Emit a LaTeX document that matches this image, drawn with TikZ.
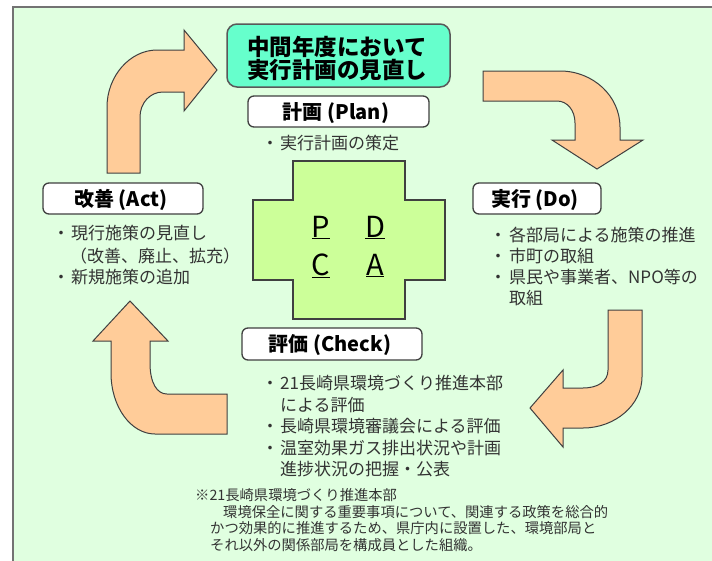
\documentclass[tikz,border=0pt]{standalone}
\usepackage{fontspec}
\setmainfont{Noto Sans CJK JP}
\definecolor{bgc}{HTML}{E0FFE0}
\definecolor{orng}{HTML}{FFCC99}
\definecolor{aqua}{HTML}{66FFCC}
\definecolor{crossc}{HTML}{CCFF99}
\definecolor{txt}{HTML}{333333}
\definecolor{edge}{HTML}{404040}
\newcommand\bl{\makebox[10pt][l]{\hspace{-8.5pt}・}}
\begin{document}
\begin{tikzpicture}[x=1pt,y=-1pt,
  arrowshape/.style={fill=orng, draw=edge, line width=1pt, line join=miter},
  labelbox/.style={fill=white, draw=edge, line width=1.3pt, rounded corners=6pt},
  labeltext/.style={anchor=base, inner sep=0, font=\fontsize{20}{24}\selectfont\bfseries},
  body/.style={anchor=base west, inner sep=0, font=\fontsize{17}{20}\selectfont, text=txt},
  note/.style={anchor=base west, inner sep=0, font=\fontsize{14.3}{17}\selectfont, text=txt},
  pdca/.style={anchor=base, inner sep=0, font=\fontsize{29}{32}\selectfont, text=black}]
\useasboundingbox (0,0) rectangle (712,560);
\clip (0,0) rectangle (712,560);
\fill[white] (0,0) rectangle (712,560);
\draw[fill=bgc, draw=gray!90!black, line width=2pt] (13,7) rectangle (740,590);

% cross
\draw[fill=crossc, draw=edge, line width=1.2pt]
 (293,161) -- (405,161) -- (405,200) -- (445,200) -- (445,280) -- (405,280) -- (405,319)
 -- (293,319) -- (293,280) -- (253,280) -- (253,200) -- (293,200) -- cycle;
\node[pdca] (p) at (321,237) {\underline{P}};
\node[pdca] (d) at (375,237) {\underline{D}};
\node[pdca] (c) at (321,275) {\underline{C}};
\node[pdca] (a) at (375,275) {\underline{A}};

% arrows
\draw[arrowshape] (107,173) -- (107,107) .. controls (107,76) and (130,50) .. (157,50)
 -- (184,50) -- (184,30) -- (217,70) -- (184,111) -- (184,92) -- (163,92)
 .. controls (150,92) and (140,103) .. (140,117) -- (140,173) -- cycle;
\draw[arrowshape] (483,71) -- (560,71) .. controls (593,71) and (620,96) .. (620,127)
 -- (620,140) -- (643,140) -- (597,169) -- (552,140) -- (575,140) -- (575,123)
 .. controls (575,110) and (567,101) .. (557,101) -- (483,101) -- cycle;
\draw[arrowshape] (608,310) -- (642,310) -- (642,377) .. controls (642,405) and (615,428) .. (583,428)
 -- (563,428) -- (563,447) -- (530,408) -- (563,370) -- (563,388) -- (583,388)
 .. controls (597,388) and (608,382) .. (608,370) -- cycle;
\draw[arrowshape] (130,301) -- (168,341) -- (150,341) -- (150,363)
 .. controls (150,383) and (157,394) .. (167,394) -- (227,394) -- (227,434) -- (155,434)
 .. controls (131,434) and (111,407) .. (111,373) -- (111,341) -- (93,341) -- cycle;

% title box
\draw[fill=aqua, draw=gray!70!black, line width=1.5pt, rounded corners=10pt] (227,24) rectangle (450,87);
\node[anchor=base, inner sep=0, font=\fontsize{22.5}{26}\selectfont\bfseries] (t1) at (337,55) {中間年度において};
\node[anchor=base, inner sep=0, font=\fontsize{22.5}{26}\selectfont\bfseries] (t2) at (337,78) {実行計画の見直し};

% label boxes
\draw[labelbox] (248,96) rectangle (429,127);
\node[labeltext] (plan) at (336,119) {計画 (Plan)};
\draw[labelbox] (43,183) rectangle (203,214);
\node[labeltext] (act) at (121,206) {改善 (Act)};
\draw[labelbox] (473,183) rectangle (601,214);
\node[labeltext] (do) at (535,206) {実行 (Do)};
\draw[labelbox] (242,328) rectangle (422,360);
\node[labeltext] (check) at (330,351.5) {評価 (Check)};

% texts
\node[body] (pl1) at (270,149.5) {\bl 実行計画の策定};

\node[body] (ac1) at (61,239.5) {\bl 現行施策の見直し};
\node[body] (ac2) at (61,262) {\hspace{9pt}（改善、廃止、拡充）};
\node[body] (ac3) at (61,283.5) {\bl 新規施策の追加};

\node[body] (do1) at (498,241.5) {\makebox[11pt][l]{\hspace{-8.5pt}・}各部局による施策の推進};
\node[body] (do2) at (498,262) {\makebox[11pt][l]{\hspace{-8.5pt}・}市町の取組};
\node[body] (do3) at (498,283.5) {\makebox[11pt][l]{\hspace{-8.5pt}・}県民や事業者、NPO等の};
\node[body] (do4) at (498,304) {\hspace{11pt}取組};

\node[body] (ch1) at (270,389.5) {\bl 21長崎県環境づくり推進本部};
\node[body] (ch2) at (270,411) {\hspace{10pt}による評価};
\node[body] (ch3) at (270,432.5) {\bl 長崎県環境審議会による評価};
\node[body] (ch4) at (270,454) {\bl 温室効果ガス排出状況や計画};
\node[body] (ch5) at (270,475) {\hspace{10pt}進捗状況の把握・公表};

\node[note] (n1) at (195,500) {※21長崎県環境づくり推進本部};
\node[note] (n2) at (223,517) {環境保全に関する重要事項について、関連する政策を総合的};
\node[note] (n3) at (210,533.5) {かつ効果的に推進するため、県庁内に設置した、環境部局と};
\node[note] (n4) at (210,550) {それ以外の関係部局を構成員とした組織。};
\end{tikzpicture}
\end{document}
